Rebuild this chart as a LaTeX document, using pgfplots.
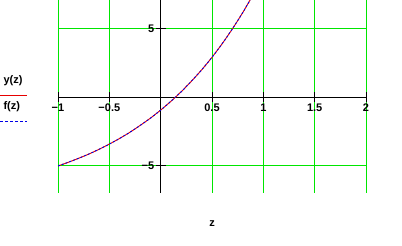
\documentclass[border=0pt]{standalone}
\usepackage{fontspec}
\setmainfont{Liberation Sans}
\usepackage{pgfplots}
\pgfplotsset{compat=1.18}
\definecolor{mcgreen}{RGB}{0,230,0}
\definecolor{mcred}{RGB}{230,0,0}
\definecolor{mcblue}{RGB}{0,0,230}
\begin{document}
\begin{tikzpicture}[x=1pt,y=1pt]
\path[use as bounding box] (0,0) rectangle (402,246);
\begin{axis}[
  at={(58pt,53pt)}, anchor=south west,
  scale only axis, width=308pt, height=193pt,
  xmin=-1, xmax=2, ymin=-7, ymax=7.08,
  axis lines=middle,
  axis line style={black, line width=0.9pt, -},
  xtick={-1,-0.5,0,0.5,1,1.5,2},
  xticklabels={−1,−0.5,0,0.5,1,1.5,2},
  ytick={-5,5},
  yticklabels={−5,5},
  grid=major,
  major grid style={mcgreen, line width=1pt},
  tick style={black, line width=0.9pt},
  major tick length=10pt,
  tick align=center,
  /pgf/number format/assume math mode=true,
  tick label style={font=\bfseries\fontsize{11}{12}\selectfont},
  xticklabel style={anchor=north, yshift=2pt},
  yticklabel style={anchor=east, xshift=2pt},
  clip=true,
]
\addplot[mcred, line width=0.9pt, smooth] coordinates {
(-1,-5.03) (-0.9,-4.76) (-0.8,-4.47) (-0.7,-4.16) (-0.6,-3.81) (-0.5,-3.43)
(-0.4,-3.02) (-0.3,-2.57) (-0.2,-2.07) (-0.1,-1.54) (0,-0.95) (0.1,-0.31)
(0.2,0.39) (0.3,1.16) (0.4,1.99) (0.5,2.90) (0.6,3.90) (0.7,4.99)
(0.8,6.17) (0.87,7.07) (0.9,7.45)
};
\addplot[mcblue, line width=0.9pt, smooth, dash pattern=on 2pt off 2pt] coordinates {
(-1,-5.03) (-0.9,-4.76) (-0.8,-4.47) (-0.7,-4.16) (-0.6,-3.81) (-0.5,-3.43)
(-0.4,-3.02) (-0.3,-2.57) (-0.2,-2.07) (-0.1,-1.54) (0,-0.95) (0.1,-0.31)
(0.2,0.39) (0.3,1.16) (0.4,1.99) (0.5,2.90) (0.6,3.90) (0.7,4.99)
(0.8,6.17) (0.87,7.07) (0.9,7.45)
};
\end{axis}
\node[font=\bfseries\fontsize{11}{12}\selectfont, anchor=west] at (0,165) {y(z)};
\draw[mcred, line width=0.9pt] (0,151) -- (27,151);
\node[font=\bfseries\fontsize{11}{12}\selectfont, anchor=west] at (0,139) {f(z)};
\draw[mcblue, line width=0.9pt, dash pattern=on 3pt off 2pt] (0,125) -- (27,125);
\node[font=\bfseries\fontsize{11}{12}\selectfont] at (212,22) {z};
\end{tikzpicture}
\end{document}
